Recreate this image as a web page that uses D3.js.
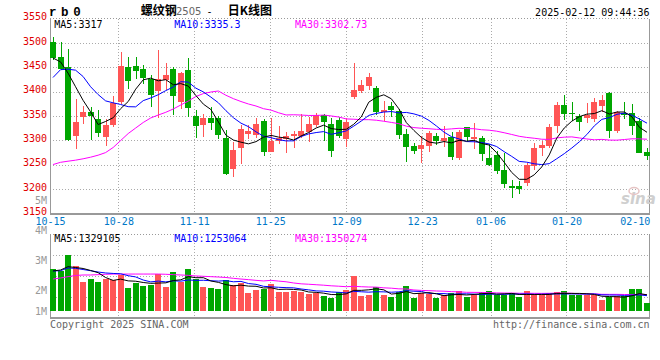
<!DOCTYPE html>
<html><head><meta charset="utf-8">
<script src="https://cdn.jsdelivr.net/npm/d3@7"></script>
<style>body{margin:0;background:#fff}svg{display:block}</style>
</head><body>
<svg id="c" width="660" height="360"></svg>
<script>
// ---------------- data ----------------
const dates = [
 "10-15","10-16","10-17","10-18","10-21","10-22","10-23","10-24","10-25","10-28","10-29","10-30","10-31",
 "11-01","11-04","11-05","11-06","11-07","11-08","11-11","11-12","11-13","11-14","11-15","11-18","11-19","11-20","11-21","11-22","11-25","11-26","11-27","11-28","11-29",
 "12-02","12-03","12-04","12-05","12-06","12-09","12-10","12-11","12-12","12-13","12-16","12-17","12-18","12-19","12-20","12-23","12-24","12-25","12-26","12-27","12-30","12-31",
 "01-02","01-03","01-06","01-07","01-08","01-09","01-10","01-13","01-14","01-15","01-16","01-17","01-20","01-21","01-22","01-23","01-24","01-27",
 "02-05","02-06","02-07","02-10","02-11","02-12"];
const open = [3501,3471.6,3450.5,3309,3348.6,3359,3343.9,3306,3331.5,3379.3,
 3450,3452.6,3446.4,3425.3,3402,3423.9,3445.8,3379.3,3444.4,3350,
 3331.5,3345.3,3345,3305.5,3241,3285,3313,3311,3339.7,3276.8,
 3298.7,3302.8,3309,3309,3316.6,3331.5,3352,3333.6,3341.8,3302.8,
 3389.6,3402,3412,3408,3357.6,3370.5,3360,3313,3288.5,3282.3,
 3289,3309,3299.3,3306.3,3264.5,3326.8,3302.8,3304,3264.5,3270,
 3239,3206.4,3206.4,3212,3248,3285,3289,3330,3372.6,3356.8,
 3350,3346.5,3343.2,3371,3397.8,3319.2,3355.5,3355.5,3339.7,3276.8];
const high = [3513,3502,3487,3384,3371,3369,3362.3,3343,3391,3482,
 3472,3471.6,3453.6,3435,3485.4,3458,3451,3441,3468,3362,
 3354,3369,3350,3321,3297,3331.5,3331.5,3346,3344,3346,
 3329.5,3317.8,3318.6,3354.7,3348.6,3355.5,3354,3345,3348.6,3345,
 3459.3,3424,3437.6,3412,3381.4,3379,3364.4,3323.3,3295,3309,
 3320,3314.5,3329.5,3317.8,3321,3328,3336,3309,3292,3278.2,
 3273.5,3218.7,3216.7,3253,3295,3298.7,3333.6,3379.3,3393,3379.3,
 3354,3376,3386.3,3393,3400,3360,3379.3,3374,3345.3,3283.7];
const low = [3465,3444,3298,3282,3334,3300,3307.5,3289,3327.5,3374.6,
 3405.4,3426,3415.6,3369,3345.3,3403,3352,3364,3348.6,3305,
 3307.5,3321,3303,3229,3225.5,3251.5,3303,3304,3268,3276,
 3292,3273.5,3283.7,3305,3297.3,3328,3298.7,3266.5,3304,3287,
 3385,3396.6,3403,3352,3340.4,3348.6,3302.8,3256,3272,3254,
 3275.5,3290.5,3287,3259.7,3259.7,3298.7,3282,3257.7,3247.5,3231,
 3203,3182.4,3189.4,3207,3239,3268.6,3283.7,3314.5,3341.8,3339.7,
 3319,3335,3337,3358.8,3305.5,3314.5,3343.9,3311,3274,3259.7];
const close = [3468,3445.8,3300,3338,3358.8,3350,3315.7,3331.5,3376,3452.6,
 3422.4,3443,3427.3,3393,3425.3,3434,3391,3438.8,3367,3329.5,
 3345.3,3336,3311,3231,3280,3323.3,3319,3333.6,3276.8,3298.7,
 3305.5,3309.6,3313,3319,3333.6,3352,3338.3,3278,3309,3336.7,
 3403.3,3413.6,3429.4,3358.8,3362.3,3362.3,3311,3287,3279,3290.5,
 3315.7,3298.7,3304,3265.3,3316.6,3307.5,3307.5,3271.4,3249.5,3237.8,
 3210,3203,3200.3,3249.5,3283.7,3290.5,3326.8,3372.6,3353.5,3353.5,
 3337,3352,3379.3,3382.8,3319.2,3357.6,3352,3330,3274.7,3268.6];
// volume, millions of lots
const volume = [3.50,3.36,4.68,3.76,2.44,2.66,2.44,2.63,2.56,2.98,
 1.92,2.30,2.09,2.20,3.10,2.01,3.28,2.39,3.53,2.66,
 2.01,1.90,1.80,2.58,2.15,2.31,1.49,1.74,1.85,2.24,
 1.61,1.60,1.64,1.61,1.41,1.45,1.25,1.08,1.56,1.73,
 2.93,1.25,1.31,1.99,1.28,1.16,1.56,2.07,1.08,1.50,
 1.38,1.07,1.28,1.45,1.65,1.15,1.30,1.58,1.65,1.28,
 1.28,1.47,1.14,1.65,1.28,1.28,1.47,1.58,1.65,1.28,
 1.28,1.34,1.28,0.89,1.15,1.20,1.20,1.82,1.82,0.64];
// moving-average values before enough bars are on screen
const ma5Head = [3469,3461,3438,3410];
const ma10Head = [3429,3445,3446,3444,3431,3410,3394,3381,3377];
const ma30Head = [3250.4,3255,3257.3,3259.4,3262.2,3265.5,3269.6,3275,3285.4,3299.7,
 3314,3325.4,3336.7,3346,3352,3357.6,3364.4,3372.6,3380.8,3390,
 3396,3399.2,3401.3,3392.5,3385.5,3379.7,3374.6,3370.5,3365];
const vma5Head = [3.34,3.42,3.70,3.63];
const vma10Head = [3.34,3.36,3.59,3.56,3.46,3.36,3.25,3.17,3.13];
const vma30Head = [2.66,2.75,2.86,2.96,3.00,3.00,3.03,3.06,3.08,3.08,
 3.08,3.08,3.08,3.08,3.08,3.06,3.03,3.00,2.97,2.92,
 2.89,2.86,2.83,2.79,2.72,2.66,2.61,2.55,2.50];
const priceTicks = [3150,3200,3250,3300,3350,3400,3450,3500,3550];
const dateTicks = ["10-15","10-28","11-11","11-25","12-09","12-23","01-06","01-20","02-10"];
const volTicks = [1,2,3,4,5];
const priceMA = ["MA5:3317","MA10:3335.3","MA30:3302.73"];
const volMA = ["MA5:1329105","MA10:1253064","MA30:1350274"];

// ---------------- layout ----------------
const L = 50, R = 650, RB = 649.5;
const pTop = 18.5, pBot = 213.5;
const vTop = 234.3, vBot = 317.7, vBase = 310.7;
const mono = "'DejaVu Sans Mono', monospace";
const RED = "#ff5555", GREEN = "#00a600";
const svg = d3.select("#c");

const x = d3.scaleBand().domain(dates).range([L, R]).paddingInner(0.2);
const xg = d3.scalePoint().domain(dates).range([L, R]);
const y = d3.scaleLinear().domain([3150, 3550]).range([pBot, pTop]);
const yv = d3.scaleLinear().domain([0, 6.42]).range([vBase, vTop]);
const yvLab = d3.scaleLinear().domain([0, 5]).range([350.7, 200.7]);
const cx = d => Math.round(x(d) + x.bandwidth() / 2) + 0.5;

function ma(arr, n, head) {
  return arr.map((_, i) => i >= n - 1 ? d3.mean(arr.slice(i - n + 1, i + 1)) : head[i]);
}

// ---------------- grids & frames ----------------
const grid = svg.append("g").attr("stroke", "#aaa").attr("stroke-dasharray", "1,2").attr("shape-rendering", "crispEdges");
priceTicks.filter(v => v > 3150 && v < 3550).forEach(v => {
  grid.append("line").attr("x1", L).attr("x2", RB).attr("y1", Math.round(y(v)) + 0.5).attr("y2", Math.round(y(v)) + 0.5);
});
const gridDates = dateTicks.filter(d => xg(d) > L + 2 && xg(d) < R - 20);
gridDates.forEach(d => {
  const gx = Math.round(xg(d)) + 0.5;
  grid.append("line").attr("x1", gx).attr("x2", gx).attr("y1", pTop).attr("y2", pBot);
  grid.append("line").attr("x1", gx).attr("x2", gx).attr("y1", vTop).attr("y2", vBot);
});
[0.25, 0.5, 0.75].forEach(f => {
  const gy = Math.round(vTop + (vBot - vTop) * f) + 0.5;
  grid.append("line").attr("x1", L).attr("x2", RB).attr("y1", gy).attr("y2", gy);
});
// top dotted borders
grid.append("line").attr("x1", L).attr("x2", RB).attr("y1", pTop).attr("y2", pTop).attr("stroke", "#999");
grid.append("line").attr("x1", L).attr("x2", RB).attr("y1", vTop).attr("y2", vTop).attr("stroke", "#999");

const frame = svg.append("g").attr("stroke", "#999").attr("fill", "none").attr("shape-rendering", "crispEdges");
[[pTop, pBot], [vTop, vBot]].forEach(([t, b]) => {
  frame.append("line").attr("x1", L).attr("x2", L).attr("y1", t).attr("y2", b);
  frame.append("line").attr("x1", RB).attr("x2", RB).attr("y1", t).attr("y2", b);
  frame.append("line").attr("x1", L).attr("x2", RB + 0.5).attr("y1", b).attr("y2", b).attr("stroke-width", 2);
});

// ---------------- candles ----------------
const data = dates.map((d, i) => ({ d, o: open[i], h: high[i], l: low[i], c: close[i], v: volume[i] }));
const col = e => (e.c >= e.o ? RED : GREEN);
const cg = svg.append("g").attr("shape-rendering", "crispEdges");
cg.selectAll("line").data(data).join("line")
  .attr("x1", e => cx(e.d)).attr("x2", e => cx(e.d))
  .attr("y1", e => y(e.h)).attr("y2", e => y(e.l))
  .attr("stroke", col);
cg.selectAll("rect").data(data).join("rect")
  .attr("x", e => Math.round(x(e.d)))
  .attr("width", 6)
  .attr("y", e => y(Math.max(e.o, e.c)))
  .attr("height", e => Math.max(1, Math.abs(y(e.o) - y(e.c))))
  .attr("fill", col);

// ---------------- volume bars ----------------
svg.append("g").attr("shape-rendering", "crispEdges").selectAll("rect").data(data).join("rect")
  .attr("x", e => Math.round(x(e.d)))
  .attr("width", 6)
  .attr("y", e => yv(e.v))
  .attr("height", e => vBase - yv(e.v))
  .attr("fill", col);

// ---------------- MA lines ----------------
const pLine = d3.line().x((v, i) => x(dates[i]) + x.bandwidth() / 2).y(v => y(v));
const vLine = d3.line().x((v, i) => x(dates[i]) + x.bandwidth() / 2).y(v => yv(v));
const mg = svg.append("g").attr("fill", "none").attr("stroke-width", 1);
[[ma(close, 30, ma30Head), "#ff00ff"], [ma(close, 10, ma10Head), "#0000ff"], [ma(close, 5, ma5Head), "#000"]]
  .forEach(([s, c]) => mg.append("path").attr("d", pLine(s)).attr("stroke", c));
[[ma(volume, 30, vma30Head), "#ff00ff"], [ma(volume, 10, vma10Head), "#0000ff"], [ma(volume, 5, vma5Head), "#000"]]
  .forEach(([s, c]) => mg.append("path").attr("d", vLine(s)).attr("stroke", c));

// ---------------- axes ----------------
const ay = svg.append("g").attr("transform", `translate(${L},0)`)
  .call(d3.axisLeft(y).tickValues(priceTicks).tickSize(0).tickPadding(3).tickFormat(d3.format("d")));
ay.select(".domain").remove();
ay.selectAll("text").attr("fill", "#e00000").attr("font-family", mono).attr("font-size", 10).attr("dy", "0.12em");

const ax = svg.append("g").attr("transform", `translate(0,${pBot})`)
  .call(d3.axisBottom(xg).tickValues(dateTicks).tickSize(0).tickPadding(4.6));
ax.select(".domain").remove();
ax.selectAll("text").attr("fill", "#0078c8").attr("font-family", mono).attr("font-size", 10);

svg.append("g").selectAll("text").data(volTicks).join("text")
  .attr("x", 47).attr("text-anchor", "end")
  .attr("y", v => Math.min(yvLab(v), vBot - 6.7) + 3.65)
  .attr("fill", "#999").attr("font-family", mono).attr("font-size", 10)
  .text(v => v + "M");

// ---------------- texts ----------------
const maCols = ["#000", "#0000ff", "#ff00ff"], maX = [54.3, 174.3, 295];
priceMA.forEach((t, i) => svg.append("text").attr("x", maX[i]).attr("y", 27.6).attr("fill", maCols[i])
  .attr("font-family", mono).attr("font-size", 10).text(t));
volMA.forEach((t, i) => svg.append("text").attr("x", maX[i]).attr("y", 242).attr("fill", maCols[i])
  .attr("font-family", mono).attr("font-size", 10).text(t));

svg.append("text").attr("x", 49).attr("y", 15.5).attr("font-family", "'Liberation Mono', monospace")
  .attr("font-weight", "bold").attr("font-size", 12.5).attr("letter-spacing", 4.6).attr("fill", "#000").text("rb0");
const cjk = "'Noto Sans CJK SC', sans-serif";
svg.append("text").attr("x", 140.7).attr("y", 14.5).attr("font-family", cjk).attr("font-weight", "bold")
  .attr("font-size", 12).attr("fill", "#000").text("螺纹钢");
svg.append("text").attr("x", 176).attr("y", 14.5).attr("font-family", "'DejaVu Sans', sans-serif")
  .attr("font-size", 10).attr("fill", "#666").text("2505");
svg.append("text").attr("x", 206.5).attr("y", 14.5).attr("font-family", mono)
  .attr("font-size", 10).attr("fill", "#000").text("-");
svg.append("text").attr("x", 227.7).attr("y", 14.5).attr("font-family", cjk).attr("font-weight", "bold")
  .attr("font-size", 12).attr("fill", "#000").text("日K线图");
svg.append("text").attr("x", RB).attr("y", 15.6).attr("text-anchor", "end").attr("font-family", mono)
  .attr("font-size", 10).attr("fill", "#000").text("2025-02-12 09:44:36");
svg.append("text").attr("x", L).attr("y", 327.6).attr("font-family", mono)
  .attr("font-size", 10).attr("fill", "#666").text("Copyright 2025 SINA.COM");
svg.append("text").attr("x", RB).attr("y", 327.6).attr("text-anchor", "end").attr("font-family", mono)
  .attr("font-size", 10).attr("fill", "#666").text("http://finance.sina.com.cn");
// watermark
svg.append("text").attr("x", 621).attr("y", 204).attr("font-family", "'DejaVu Sans', sans-serif")
  .attr("font-style", "italic").attr("font-weight", "bold").attr("font-size", 15).attr("fill", "#cfcfcf").text("sina");
svg.append("ellipse").attr("cx", 634).attr("cy", 191).attr("rx", 5).attr("ry", 3.5)
  .attr("fill", "none").attr("stroke", "#e6c4c4").attr("stroke-width", 1.5);
</script>
</body></html>
